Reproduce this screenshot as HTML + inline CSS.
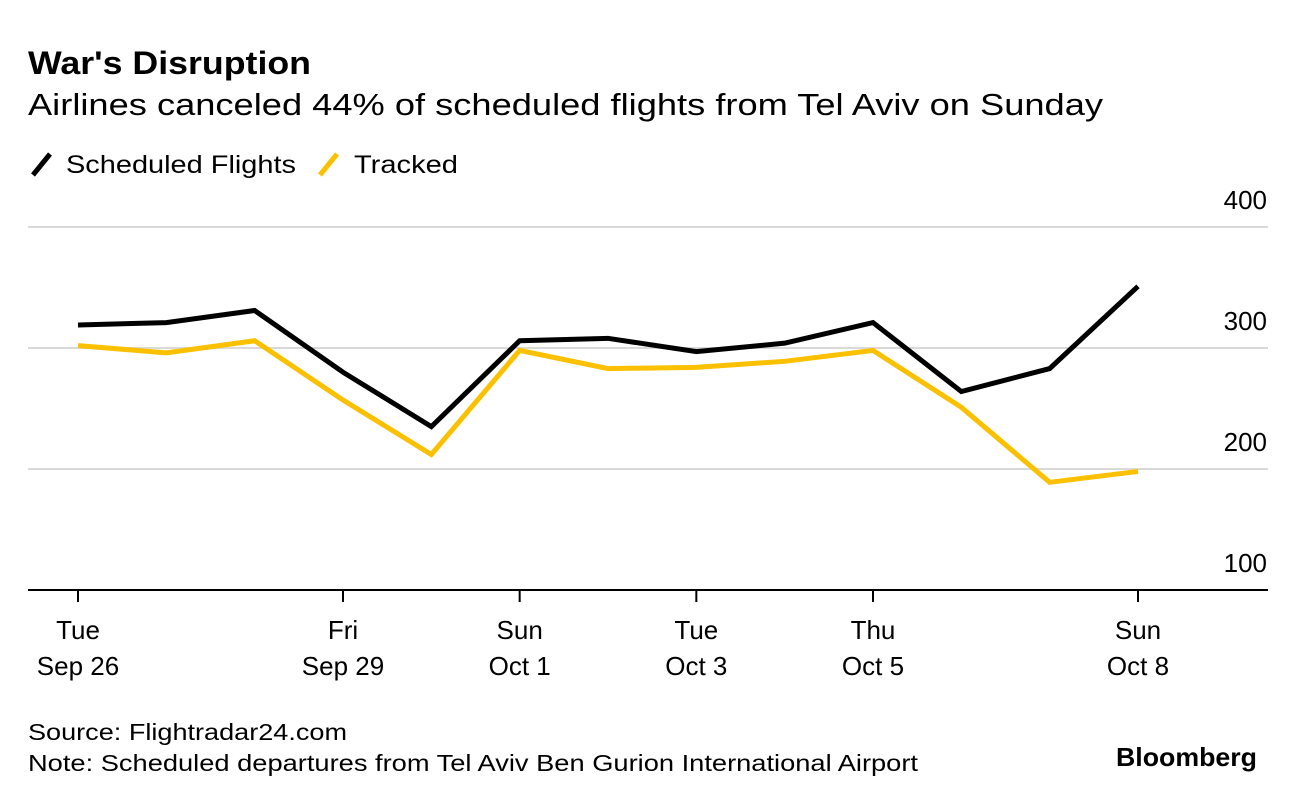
<!DOCTYPE html>
<html><head><meta charset="utf-8"><style>
body{margin:0;background:#fff;width:1296px;height:802px;overflow:hidden;font-family:"Liberation Sans",Arial,sans-serif;}
</style></head><body>
<svg width="1296" height="802" xmlns="http://www.w3.org/2000/svg" font-family="Liberation Sans, Arial, sans-serif">
<text x="28" y="74" font-size="32" font-weight="bold" fill="#000" textLength="283" lengthAdjust="spacingAndGlyphs">War's Disruption</text>
<text x="28" y="115" font-size="31" fill="#000" textLength="1075" lengthAdjust="spacingAndGlyphs">Airlines canceled 44% of scheduled flights from Tel Aviv on Sunday</text>
<g>
<line x1="33" y1="175" x2="50" y2="154" stroke="#000" stroke-width="5"/>
<text x="66" y="173" font-size="25" textLength="230" lengthAdjust="spacingAndGlyphs">Scheduled Flights</text>
<line x1="320" y1="175" x2="337" y2="154" stroke="#fbc000" stroke-width="5"/>
<text x="354" y="173" font-size="25" textLength="104" lengthAdjust="spacingAndGlyphs">Tracked</text>
</g>
<g id="grid"></g><g id="xaxis"></g><g id="lines"></g>
<text x="28" y="740" font-size="23" textLength="319" lengthAdjust="spacingAndGlyphs">Source: Flightradar24.com</text>
<text x="28" y="771" font-size="23" textLength="890" lengthAdjust="spacingAndGlyphs">Note: Scheduled departures from Tel Aviv Ben Gurion International Airport</text>
<text x="1116" y="766" font-size="26" font-weight="bold" textLength="141" lengthAdjust="spacingAndGlyphs">Bloomberg</text>
</svg>
<script>
const days = ["Sep 26","Sep 27","Sep 28","Sep 29","Sep 30","Oct 1","Oct 2","Oct 3","Oct 4","Oct 5","Oct 6","Oct 7","Oct 8"];
const scheduled = [319,321,331,280,235,306,308,297,304,321,264,283,351];
const tracked = [302,296,306,257,212,298,283,284,289,298,251,189,198];
const yTicks = [100,200,300,400];
const xTickIdx = [0,3,5,7,9,12];
const xTickTop = ["Tue","Fri","Sun","Tue","Thu","Sun"];
const xTickBottom = ["Sep 26","Sep 29","Oct 1","Oct 3","Oct 5","Oct 8"];

const NS="http://www.w3.org/2000/svg";
const x=i=>78+i*(1138-78)/12;
const y=v=>590-(v-100)*1.21;
function mk(t,a,p){const e=document.createElementNS(NS,t);for(const k in a)e.setAttribute(k,a[k]);p.appendChild(e);return e;}
const grid=document.getElementById('grid');
yTicks.forEach(v=>{
  if(v>100){const l=mk('line',{x1:28,x2:1268,y1:y(v),y2:y(v),stroke:'#d9d9d9','stroke-width':2},grid);
  
  }
  const t=mk('text',{x:1267,y:y(v)-18,'font-size':26,'text-anchor':'end'},grid);t.textContent=v;
  
  
});
const xa=document.getElementById('xaxis');
const base=mk('line',{x1:28,x2:1268,y1:590,y2:590,stroke:'#000','stroke-width':2},xa);


xTickIdx.forEach((d,j)=>{
  const tk=mk('line',{x1:x(d),x2:x(d),y1:590,y2:602,stroke:'#000','stroke-width':2},xa);
  
  
  const t=mk('text',{x:x(d),y:639,'font-size':26,'text-anchor':'middle'},xa);t.textContent=xTickTop[j];
  
  
  const t2=mk('text',{x:x(d),y:675,'font-size':26,'text-anchor':'middle'},xa);t2.textContent=xTickBottom[j];
  
  
});
const lg=document.getElementById('lines');
function line(data,color,name){
  const p=mk('polyline',{points:data.map((v,i)=>x(i)+','+y(v)).join(' '),fill:'none',stroke:color,'stroke-width':5,'stroke-linejoin':'miter'},lg);
  
  
}
line(tracked,'#fbc000','tracked-line');
line(scheduled,'#000','scheduled-line');
</script>
</body></html>
